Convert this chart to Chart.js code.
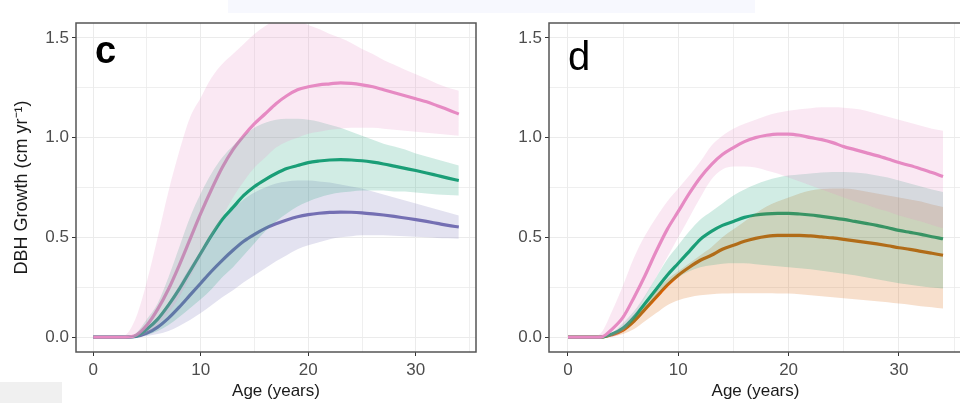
<!DOCTYPE html>
<html>
<head>
<meta charset="utf-8">
<script src="https://cdn.jsdelivr.net/npm/chart.js@4"></script>
<style>
  html, body { margin: 0; padding: 0; width: 960px; height: 403px; overflow: hidden; background: #fff; }
  .marca { position: absolute; }
  #banda-sup { left: 228px; top: 0; width: 527px; height: 13px; background: #f7f8fe; }
  #banda-inf { left: 0; top: 382px; width: 62px; height: 21px; background: #f0f0f0; }
  #grafico-c { position: absolute; left: 0; top: 0; }
  #grafico-d { position: absolute; left: 480px; top: 0; }
</style>
</head>
<body>
<div class="marca" id="banda-sup"></div>
<div class="marca" id="banda-inf"></div>
<canvas id="grafico-c" width="480" height="403"></canvas>
<canvas id="grafico-d" width="490" height="403"></canvas>
<script>
// Edades (años)
const edades = [0,1,2,3,4,5,6,7,8,9,10,11,12,13,14,15,16,17,18,19,20,21,22,23,24,25,26,27,28,29,30,31,32,33,34];

// Panel c
const rosaC      = [0,0,0,0,0.01,0.06,0.14,0.24,0.36,0.49,0.62,0.74,0.85,0.94,1.01,1.07,1.12,1.17,1.21,1.24,1.255,1.265,1.27,1.275,1.272,1.265,1.255,1.24,1.225,1.21,1.195,1.18,1.16,1.14,1.118];
const rosaCAlto  = [0,0,0,0.01,0.1,0.28,0.5,0.73,0.93,1.1,1.2,1.3,1.37,1.42,1.47,1.52,1.56,1.59,1.6,1.59,1.565,1.545,1.52,1.5,1.475,1.445,1.42,1.39,1.365,1.34,1.318,1.295,1.27,1.25,1.235];
const rosaCBajo  = [0,0,0,0,0,0.02,0.06,0.12,0.2,0.3,0.4,0.5,0.6,0.7,0.78,0.85,0.9,0.95,0.98,1.0,1.02,1.03,1.04,1.045,1.05,1.05,1.05,1.045,1.04,1.035,1.03,1.025,1.02,1.015,1.01];
const verdeC     = [0,0,0,0,0.005,0.04,0.09,0.16,0.24,0.33,0.42,0.51,0.59,0.65,0.71,0.755,0.79,0.82,0.845,0.86,0.875,0.883,0.888,0.89,0.888,0.884,0.877,0.868,0.857,0.846,0.835,0.823,0.81,0.797,0.785];
const verdeCAlto = [0,0,0,0,0.02,0.09,0.17,0.3,0.45,0.6,0.72,0.82,0.9,0.96,1.01,1.05,1.075,1.09,1.095,1.095,1.09,1.08,1.065,1.05,1.03,1.01,0.99,0.97,0.955,0.94,0.92,0.905,0.89,0.875,0.86];
const verdeCBajo = [0,0,0,0,0,0.01,0.03,0.06,0.1,0.145,0.19,0.24,0.3,0.35,0.41,0.47,0.53,0.58,0.62,0.655,0.68,0.7,0.715,0.725,0.73,0.735,0.735,0.735,0.73,0.73,0.725,0.72,0.715,0.712,0.71];
const moradoC     = [0,0,0,0,0.003,0.02,0.05,0.095,0.15,0.21,0.27,0.33,0.385,0.435,0.48,0.515,0.545,0.568,0.587,0.603,0.614,0.621,0.625,0.627,0.626,0.623,0.618,0.612,0.605,0.597,0.589,0.58,0.57,0.56,0.552];
const moradoCAlto = [0,0,0,0,0.01,0.05,0.1,0.17,0.26,0.35,0.43,0.51,0.58,0.64,0.69,0.725,0.75,0.77,0.78,0.785,0.785,0.78,0.775,0.765,0.755,0.745,0.73,0.715,0.7,0.685,0.67,0.655,0.64,0.625,0.61];
const moradoCBajo = [0,0,0,0,0,0.005,0.015,0.03,0.055,0.085,0.12,0.16,0.2,0.235,0.275,0.31,0.345,0.38,0.41,0.44,0.46,0.475,0.49,0.5,0.505,0.51,0.51,0.51,0.508,0.505,0.503,0.5,0.497,0.495,0.493];

// Panel d
const rosaD      = [0,0,0,0,0.04,0.1,0.2,0.31,0.43,0.54,0.63,0.72,0.8,0.865,0.915,0.95,0.98,1.0,1.012,1.018,1.018,1.012,1.0,0.99,0.975,0.955,0.94,0.925,0.91,0.893,0.875,0.86,0.843,0.825,0.805];
const rosaDAlto  = [0,0,0,0.02,0.13,0.26,0.4,0.51,0.6,0.68,0.745,0.81,0.88,0.96,1.01,1.045,1.07,1.09,1.11,1.125,1.135,1.143,1.148,1.152,1.152,1.15,1.145,1.135,1.12,1.105,1.09,1.075,1.06,1.045,1.035];
const rosaDBajo  = [0,0,0,0,0,0.03,0.1,0.2,0.3,0.4,0.5,0.6,0.7,0.79,0.84,0.855,0.855,0.85,0.835,0.82,0.8,0.78,0.76,0.74,0.72,0.7,0.68,0.665,0.645,0.63,0.61,0.595,0.58,0.562,0.545];
const verdeD     = [0,0,0,0,0.015,0.045,0.1,0.17,0.24,0.31,0.37,0.43,0.49,0.53,0.56,0.58,0.6,0.612,0.618,0.62,0.62,0.617,0.612,0.605,0.598,0.59,0.58,0.57,0.56,0.548,0.535,0.525,0.515,0.503,0.493];
const verdeDAlto = [0,0,0,0,0.02,0.07,0.13,0.21,0.3,0.39,0.46,0.53,0.59,0.63,0.67,0.71,0.74,0.765,0.785,0.8,0.81,0.815,0.82,0.825,0.828,0.828,0.825,0.82,0.81,0.8,0.785,0.77,0.755,0.74,0.727];
const verdeDBajo = [0,0,0,0,0.005,0.03,0.07,0.13,0.2,0.26,0.3,0.33,0.35,0.36,0.368,0.37,0.37,0.365,0.36,0.355,0.35,0.345,0.34,0.333,0.325,0.318,0.31,0.3,0.29,0.28,0.27,0.262,0.255,0.248,0.243];
const naranjaD     = [0,0,0,0,0.012,0.035,0.08,0.14,0.2,0.26,0.31,0.35,0.385,0.41,0.44,0.46,0.48,0.495,0.505,0.51,0.51,0.51,0.507,0.502,0.497,0.49,0.482,0.475,0.467,0.458,0.448,0.44,0.43,0.42,0.41];
const naranjaDAlto = [0,0,0,0,0.015,0.045,0.1,0.16,0.23,0.29,0.33,0.37,0.41,0.45,0.5,0.54,0.58,0.62,0.655,0.68,0.7,0.72,0.735,0.742,0.745,0.745,0.74,0.73,0.72,0.71,0.7,0.69,0.68,0.665,0.652];
const naranjaDBajo = [0,0,0,0,0.003,0.015,0.04,0.08,0.12,0.16,0.185,0.2,0.21,0.215,0.218,0.22,0.22,0.22,0.22,0.219,0.218,0.215,0.21,0.205,0.2,0.195,0.19,0.185,0.18,0.175,0.168,0.162,0.155,0.15,0.143];

// Ticks
const ticksY = [0, 0.5, 1.0, 1.5];
const ticksX = [0, 10, 20, 30];

const colores = {
    rosa: '231, 138, 195',
    verde: '27, 158, 119',
    morado: '117, 112, 179',
    naranja: '217, 95, 2'
};

function serie(valores) {
    return edades.map((e, i) => ({ x: e, y: valores[i] }));
}

// Líneas primero (debajo), luego las bandas semitransparentes encima.
// El primer grupo queda dibujado arriba.
function construirDatasets(grupos) {
    const datasets = [];
    grupos.forEach(g => {
        datasets.push({
            data: serie(g.linea),
            borderColor: `rgb(${g.color})`,
            borderWidth: 3.2,
            pointRadius: 0,
            fill: false,
            cubicInterpolationMode: 'monotone',
            order: 1
        });
    });
    grupos.forEach(g => {
        datasets.push({
            data: serie(g.bajo),
            borderWidth: 0,
            borderColor: 'rgba(0,0,0,0)',
            pointRadius: 0,
            fill: false,
            cubicInterpolationMode: 'monotone',
            order: 0
        });
        datasets.push({
            data: serie(g.alto),
            borderWidth: 0,
            borderColor: 'rgba(0,0,0,0)',
            backgroundColor: `rgba(${g.color}, 0.2)`,
            pointRadius: 0,
            fill: '-1',
            cubicInterpolationMode: 'monotone',
            order: 0
        });
    });
    return datasets;
}

const esMayor = (v, lista) => lista.some(t => Math.abs(t - v) < 1e-6);

// Marco del panel y letra
const marcoPanel = {
    id: 'marcoPanel',
    afterDraw(chart, args, opts) {
        const { ctx, chartArea } = chart;
        ctx.save();
        ctx.strokeStyle = '#555';
        ctx.lineWidth = 1.5;
        ctx.strokeRect(chartArea.left, chartArea.top, chartArea.right - chartArea.left, chartArea.bottom - chartArea.top);
        ctx.fillStyle = '#000';
        ctx.font = opts.fuente;
        ctx.textBaseline = 'alphabetic';
        ctx.fillText(opts.letra, opts.x, opts.y);
        ctx.restore();
    }
};

function crearGrafico(id, grupos, opciones) {
    const ctx = document.getElementById(id).getContext('2d');
    return new Chart(ctx, {
        type: 'line',
        data: { datasets: construirDatasets(grupos) },
        options: {
            responsive: false,
            animation: false,
            events: [],
            layout: { padding: { top: 23, right: opciones.padDer, left: 0, bottom: 0 } },
            plugins: {
                legend: { display: false },
                tooltip: { enabled: false },
                marcoPanel: { letra: opciones.letra, fuente: opciones.fuente, x: opciones.letraX, y: opciones.letraY }
            },
            scales: {
                x: {
                    type: 'linear',
                    min: opciones.xMin,
                    max: opciones.xMax,
                    afterFit: s => { s.height = 51; },
                    border: { display: false },
                    grid: {
                        color: '#ebebeb',
                        lineWidth: c => esMayor(c.tick.value, ticksX) ? 1 : 0.8,
                        tickLength: 4,
                        tickColor: c => esMayor(c.tick.value, ticksX) ? '#333' : 'rgba(0,0,0,0)'
                    },
                    ticks: {
                        stepSize: 5,
                        includeBounds: false,
                        autoSkip: false,
                        maxRotation: 0,
                        padding: 4,
                        color: '#4d4d4d',
                        font: { family: 'Liberation Sans, Arial', size: 17 },
                        callback: v => esMayor(v, ticksX) ? String(v) : ''
                    },
                    title: {
                        display: true,
                        text: 'Age (years)',
                        color: '#1a1a1a',
                        font: { family: 'Liberation Sans, Arial', size: 17 },
                        padding: { top: 0, bottom: 1 }
                    }
                },
                y: {
                    min: -0.075,
                    max: 1.575,
                    afterFit: s => { s.width = opciones.anchoY; },
                    border: { display: false },
                    grid: {
                        color: '#ebebeb',
                        lineWidth: c => esMayor(c.tick.value, ticksY) ? 1 : 0.8,
                        tickLength: 4,
                        tickColor: c => esMayor(c.tick.value, ticksY) ? '#333' : 'rgba(0,0,0,0)'
                    },
                    ticks: {
                        stepSize: 0.25,
                        includeBounds: false,
                        padding: 3,
                        color: '#4d4d4d',
                        font: { family: 'Liberation Sans, Arial', size: 17 },
                        callback: v => esMayor(v, ticksY) ? v.toFixed(1) : ''
                    },
                    title: {
                        display: opciones.tituloY,
                        text: 'DBH Growth (cm yr\u207B\u00B9)',
                        color: '#1a1a1a',
                        font: { family: 'Liberation Sans, Arial', size: 18 },
                        padding: { top: 11, bottom: 0 }
                    }
                }
            }
        },
        plugins: [marcoPanel]
    });
}

document.addEventListener('DOMContentLoaded', () => {
    crearGrafico('grafico-c', [
        { color: colores.rosa, linea: rosaC, alto: rosaCAlto, bajo: rosaCBajo },
        { color: colores.verde, linea: verdeC, alto: verdeCAlto, bajo: verdeCBajo },
        { color: colores.morado, linea: moradoC, alto: moradoCAlto, bajo: moradoCBajo }
    ], { xMin: -1.6, xMax: 35.6, anchoY: 76, padDer: 4, tituloY: true,
         letra: 'c', fuente: 'bold 38px Liberation Sans, Arial', letraX: 95, letraY: 63 });

    crearGrafico('grafico-d', [
        { color: colores.rosa, linea: rosaD, alto: rosaDAlto, bajo: rosaDBajo },
        { color: colores.verde, linea: verdeD, alto: verdeDAlto, bajo: verdeDBajo },
        { color: colores.naranja, linea: naranjaD, alto: naranjaDAlto, bajo: naranjaDBajo }
    ], { xMin: -1.72, xMax: 35.72, anchoY: 69, padDer: 8, tituloY: false,
         letra: 'd', fuente: '40px Liberation Sans, Arial', letraX: 88, letraY: 70 });
});
</script>
</body>
</html>
